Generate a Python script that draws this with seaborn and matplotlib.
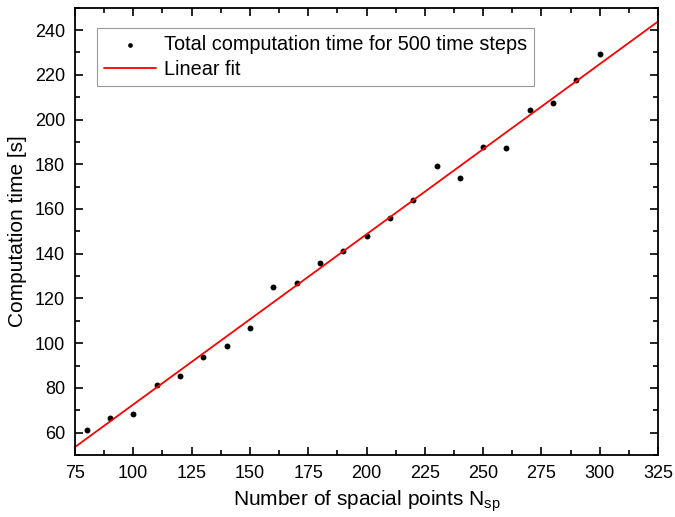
import numpy as np
import pandas as pd
import matplotlib
matplotlib.use("Agg")
import matplotlib.pyplot as plt
import seaborn as sns
from matplotlib.ticker import MultipleLocator

# Data
n_points = [80, 90, 100, 110, 120, 130, 140, 150, 160, 170, 180, 190,
            200, 210, 220, 230, 240, 250, 260, 270, 280, 290, 300]
comp_time = [61.3, 66.7, 68.5, 81.5, 85.5, 94.0, 98.9, 107.0, 125.0, 126.7,
             136.0, 141.0, 147.8, 155.8, 163.9, 179.1, 173.7, 187.6, 187.1,
             204.1, 207.3, 217.5, 229.1]

df = pd.DataFrame({"n": n_points, "t": comp_time})

sns.set_style("ticks")
plt.rcParams["font.family"] = ["Liberation Sans", "DejaVu Sans"]
plt.rcParams["xtick.direction"] = "in"
plt.rcParams["ytick.direction"] = "in"
for k in ["text.color", "axes.labelcolor", "xtick.color", "ytick.color", "axes.edgecolor"]:
    plt.rcParams[k] = "black"

fig = plt.figure(figsize=(6.75, 5.17), dpi=100)
ax = fig.add_axes([0.111, 0.12, 0.864, 0.865])

sns.scatterplot(data=df, x="n", y="t", ax=ax, s=18, color="black",
                linewidth=0, label="Total computation time for 500 time steps")
ax.set_xlim(75, 325)
sns.regplot(data=df, x="n", y="t", ax=ax, ci=None, truncate=False, scatter=False,
            label="Linear fit", line_kws={"color": "red", "lw": 1.3})

ax.set_xlim(75, 325)
ax.set_ylim(50, 250)
ax.xaxis.set_major_locator(MultipleLocator(25))
ax.xaxis.set_minor_locator(MultipleLocator(12.5))
ax.yaxis.set_minor_locator(MultipleLocator(10))
ax.set_yticks(np.arange(60, 241, 20))
ax.tick_params(which="both", top=True, right=True, width=1.2, labelsize=13)
ax.tick_params(which="major", length=6, pad=7)
ax.tick_params(which="minor", length=3.5)
for s in ax.spines.values():
    s.set_linewidth(1.3)

ax.set_xlabel(r"Number of spacial points N$_{\mathregular{sp}}$", fontsize=15, labelpad=5)
ax.set_ylabel("Computation time [s]", fontsize=15, labelpad=6)

leg = ax.legend(loc="upper left", bbox_to_anchor=(0.038, 0.955), fontsize=14.3,
                frameon=True, fancybox=False, edgecolor="gray",
                handlelength=2.6, borderpad=0.35, labelspacing=0.3,
                handletextpad=0.4, borderaxespad=0, markerscale=0.8)
leg.get_frame().set_linewidth(0.8)

fig.savefig("out.png", dpi=100)
